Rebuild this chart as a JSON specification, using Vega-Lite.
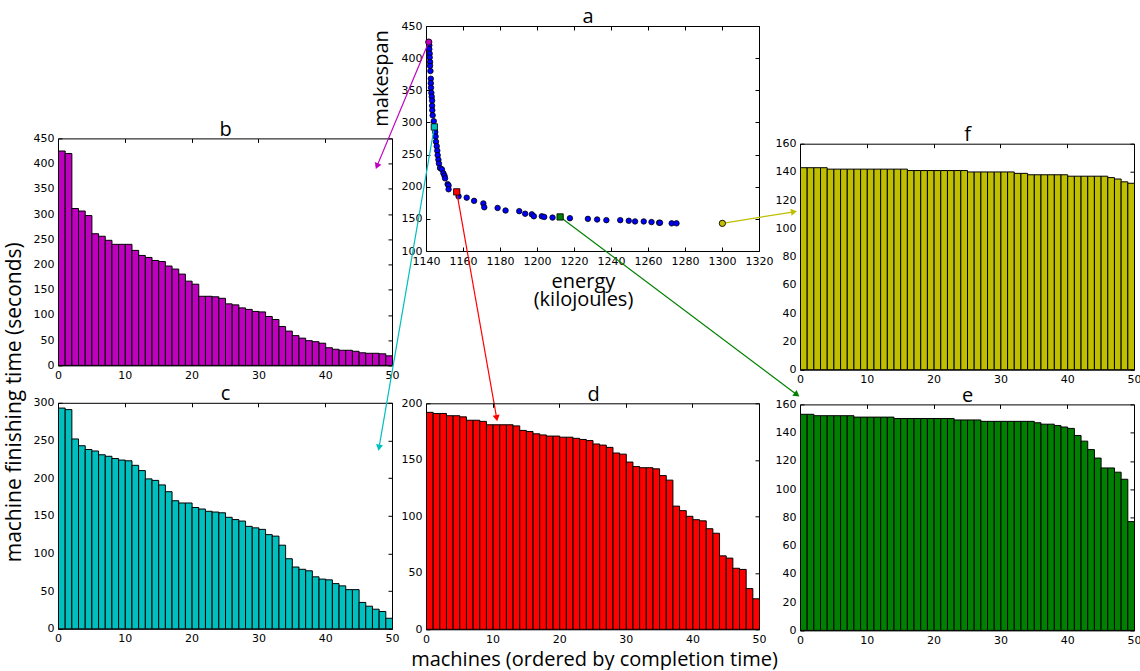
{
  "$schema": "https://vega.github.io/schema/vega-lite/v6.json",
  "background": "white",
  "padding": {"left": 2, "top": 5, "right": 0, "bottom": 0},
  "config": {
    "view": {"stroke": "black", "strokeWidth": 1},
    "axis": {
      "labelFont": "DejaVu Sans", "labelFontSize": 11, "labelColor": "black",
      "labelFlush": false, "labelOverlap": false,
      "tickColor": "black", "tickSize": -4, "tickWidth": 1, "labelPadding": 8,
      "domain": false, "grid": false,
      "titleFont": "Open Sans", "titleFontSize": 20, "titleFontWeight": "normal", "titleColor": "black"
    }
  },
  "datasets": {
    "pts": [
      {"energy": 1141.5, "makespan": 425}, {"energy": 1141.8, "makespan": 420}, {"energy": 1141.8, "makespan": 414},
      {"energy": 1142, "makespan": 407}, {"energy": 1142, "makespan": 401}, {"energy": 1142.2, "makespan": 394},
      {"energy": 1142.2, "makespan": 388}, {"energy": 1142.4, "makespan": 380}, {"energy": 1142.6, "makespan": 368},
      {"energy": 1142.6, "makespan": 361}, {"energy": 1142.7, "makespan": 354}, {"energy": 1142.9, "makespan": 346},
      {"energy": 1143.1, "makespan": 340}, {"energy": 1143.3, "makespan": 334}, {"energy": 1143.3, "makespan": 326},
      {"energy": 1143.4, "makespan": 319}, {"energy": 1143.6, "makespan": 311}, {"energy": 1144.2, "makespan": 302},
      {"energy": 1144.5, "makespan": 293}, {"energy": 1145, "makespan": 285}, {"energy": 1145.2, "makespan": 278},
      {"energy": 1145.4, "makespan": 270}, {"energy": 1145.8, "makespan": 263}, {"energy": 1146.1, "makespan": 256},
      {"energy": 1146.3, "makespan": 249}, {"energy": 1146.7, "makespan": 242}, {"energy": 1147, "makespan": 236},
      {"energy": 1147.6, "makespan": 229}, {"energy": 1148.6, "makespan": 227}, {"energy": 1149.4, "makespan": 221},
      {"energy": 1150, "makespan": 217}, {"energy": 1150.3, "makespan": 213}, {"energy": 1151.7, "makespan": 204},
      {"energy": 1152.2, "makespan": 202}, {"energy": 1152.2, "makespan": 196}, {"energy": 1156.6, "makespan": 192},
      {"energy": 1157.6, "makespan": 185}, {"energy": 1162, "makespan": 183}, {"energy": 1166, "makespan": 178},
      {"energy": 1171, "makespan": 174}, {"energy": 1171.5, "makespan": 168}, {"energy": 1178.7, "makespan": 167},
      {"energy": 1183, "makespan": 163}, {"energy": 1190.4, "makespan": 162}, {"energy": 1193.6, "makespan": 158},
      {"energy": 1197.2, "makespan": 157}, {"energy": 1198.3, "makespan": 154}, {"energy": 1202.6, "makespan": 154},
      {"energy": 1203.9, "makespan": 153}, {"energy": 1208.4, "makespan": 152}, {"energy": 1212.5, "makespan": 153},
      {"energy": 1217.8, "makespan": 151}, {"energy": 1227.5, "makespan": 150}, {"energy": 1232.5, "makespan": 149},
      {"energy": 1237.5, "makespan": 148}, {"energy": 1245, "makespan": 148}, {"energy": 1249.6, "makespan": 147},
      {"energy": 1253, "makespan": 146}, {"energy": 1257.7, "makespan": 146}, {"energy": 1261.9, "makespan": 145},
      {"energy": 1266, "makespan": 144}, {"energy": 1266.5, "makespan": 144}, {"energy": 1272.8, "makespan": 143},
      {"energy": 1275.4, "makespan": 143}, {"energy": 1300.2, "makespan": 143}
    ],
    "links": [
      {"panel": "b", "energy": 1141.5, "makespan": 425, "energy2": 1113.5, "makespan2": 232},
      {"panel": "c", "energy": 1144.5, "makespan": 293, "energy2": 1114.6, "makespan2": -206},
      {"panel": "d", "energy": 1156.6, "makespan": 192, "energy2": 1178.2, "makespan2": -160},
      {"panel": "e", "energy": 1212.5, "makespan": 153, "energy2": 1340.5, "makespan2": -123.5},
      {"panel": "f", "energy": 1300.2, "makespan": 143, "energy2": 1338.9, "makespan2": 161}
    ],
    "b": [
      {"machine": 0, "time": 425}, {"machine": 1, "time": 420}, {"machine": 2, "time": 311}, {"machine": 3, "time": 306}, {"machine": 4, "time": 297},
      {"machine": 5, "time": 261}, {"machine": 6, "time": 256}, {"machine": 7, "time": 248}, {"machine": 8, "time": 240}, {"machine": 9, "time": 240},
      {"machine": 10, "time": 240}, {"machine": 11, "time": 228}, {"machine": 12, "time": 218}, {"machine": 13, "time": 214}, {"machine": 14, "time": 208},
      {"machine": 15, "time": 206}, {"machine": 16, "time": 197}, {"machine": 17, "time": 191}, {"machine": 18, "time": 181}, {"machine": 19, "time": 167},
      {"machine": 20, "time": 161}, {"machine": 21, "time": 137}, {"machine": 22, "time": 137}, {"machine": 23, "time": 136}, {"machine": 24, "time": 133},
      {"machine": 25, "time": 122}, {"machine": 26, "time": 120}, {"machine": 27, "time": 114}, {"machine": 28, "time": 111}, {"machine": 29, "time": 107},
      {"machine": 30, "time": 106}, {"machine": 31, "time": 97}, {"machine": 32, "time": 91}, {"machine": 33, "time": 77}, {"machine": 34, "time": 68},
      {"machine": 35, "time": 59}, {"machine": 36, "time": 54}, {"machine": 37, "time": 49}, {"machine": 38, "time": 47}, {"machine": 39, "time": 44},
      {"machine": 40, "time": 35}, {"machine": 41, "time": 32}, {"machine": 42, "time": 30}, {"machine": 43, "time": 30}, {"machine": 44, "time": 28},
      {"machine": 45, "time": 25}, {"machine": 46, "time": 24}, {"machine": 47, "time": 24}, {"machine": 48, "time": 23}, {"machine": 49, "time": 19}
    ],
    "c": [
      {"machine": 0, "time": 293}, {"machine": 1, "time": 291}, {"machine": 2, "time": 252}, {"machine": 3, "time": 243}, {"machine": 4, "time": 238},
      {"machine": 5, "time": 236}, {"machine": 6, "time": 231}, {"machine": 7, "time": 229}, {"machine": 8, "time": 226}, {"machine": 9, "time": 224},
      {"machine": 10, "time": 223}, {"machine": 11, "time": 217}, {"machine": 12, "time": 210}, {"machine": 13, "time": 199}, {"machine": 14, "time": 197},
      {"machine": 15, "time": 191}, {"machine": 16, "time": 182}, {"machine": 17, "time": 170}, {"machine": 18, "time": 167}, {"machine": 19, "time": 167},
      {"machine": 20, "time": 161}, {"machine": 21, "time": 159}, {"machine": 22, "time": 156}, {"machine": 23, "time": 155}, {"machine": 24, "time": 154},
      {"machine": 25, "time": 148}, {"machine": 26, "time": 145}, {"machine": 27, "time": 143}, {"machine": 28, "time": 136}, {"machine": 29, "time": 134},
      {"machine": 30, "time": 132}, {"machine": 31, "time": 125}, {"machine": 32, "time": 123}, {"machine": 33, "time": 111}, {"machine": 34, "time": 93},
      {"machine": 35, "time": 82}, {"machine": 36, "time": 79}, {"machine": 37, "time": 77}, {"machine": 38, "time": 69}, {"machine": 39, "time": 66},
      {"machine": 40, "time": 65}, {"machine": 41, "time": 60}, {"machine": 42, "time": 57}, {"machine": 43, "time": 52}, {"machine": 44, "time": 52},
      {"machine": 45, "time": 35}, {"machine": 46, "time": 30}, {"machine": 47, "time": 26}, {"machine": 48, "time": 23}, {"machine": 49, "time": 14}
    ],
    "d": [
      {"machine": 0, "time": 192}, {"machine": 1, "time": 191}, {"machine": 2, "time": 191}, {"machine": 3, "time": 189}, {"machine": 4, "time": 189},
      {"machine": 5, "time": 188}, {"machine": 6, "time": 185}, {"machine": 7, "time": 185}, {"machine": 8, "time": 184}, {"machine": 9, "time": 181},
      {"machine": 10, "time": 181}, {"machine": 11, "time": 181}, {"machine": 12, "time": 181}, {"machine": 13, "time": 180}, {"machine": 14, "time": 176},
      {"machine": 15, "time": 175}, {"machine": 16, "time": 173}, {"machine": 17, "time": 172}, {"machine": 18, "time": 171}, {"machine": 19, "time": 171},
      {"machine": 20, "time": 170}, {"machine": 21, "time": 170}, {"machine": 22, "time": 169}, {"machine": 23, "time": 168}, {"machine": 24, "time": 167},
      {"machine": 25, "time": 164}, {"machine": 26, "time": 163}, {"machine": 27, "time": 161}, {"machine": 28, "time": 156}, {"machine": 29, "time": 155},
      {"machine": 30, "time": 148}, {"machine": 31, "time": 144}, {"machine": 32, "time": 143}, {"machine": 33, "time": 143}, {"machine": 34, "time": 142},
      {"machine": 35, "time": 136}, {"machine": 36, "time": 132}, {"machine": 37, "time": 109}, {"machine": 38, "time": 105}, {"machine": 39, "time": 100},
      {"machine": 40, "time": 97}, {"machine": 41, "time": 96}, {"machine": 42, "time": 89}, {"machine": 43, "time": 85}, {"machine": 44, "time": 65},
      {"machine": 45, "time": 63}, {"machine": 46, "time": 54}, {"machine": 47, "time": 53}, {"machine": 48, "time": 36}, {"machine": 49, "time": 27}
    ],
    "e": [
      {"machine": 0, "time": 153}, {"machine": 1, "time": 153}, {"machine": 2, "time": 152}, {"machine": 3, "time": 152}, {"machine": 4, "time": 152},
      {"machine": 5, "time": 152}, {"machine": 6, "time": 152}, {"machine": 7, "time": 152}, {"machine": 8, "time": 151}, {"machine": 9, "time": 151},
      {"machine": 10, "time": 151}, {"machine": 11, "time": 151}, {"machine": 12, "time": 151}, {"machine": 13, "time": 151}, {"machine": 14, "time": 150},
      {"machine": 15, "time": 150}, {"machine": 16, "time": 150}, {"machine": 17, "time": 150}, {"machine": 18, "time": 150}, {"machine": 19, "time": 150},
      {"machine": 20, "time": 150}, {"machine": 21, "time": 150}, {"machine": 22, "time": 150}, {"machine": 23, "time": 149}, {"machine": 24, "time": 149},
      {"machine": 25, "time": 149}, {"machine": 26, "time": 149}, {"machine": 27, "time": 148}, {"machine": 28, "time": 148}, {"machine": 29, "time": 148},
      {"machine": 30, "time": 148}, {"machine": 31, "time": 148}, {"machine": 32, "time": 148}, {"machine": 33, "time": 148}, {"machine": 34, "time": 148},
      {"machine": 35, "time": 147}, {"machine": 36, "time": 146}, {"machine": 37, "time": 146}, {"machine": 38, "time": 145}, {"machine": 39, "time": 144},
      {"machine": 40, "time": 143}, {"machine": 41, "time": 138}, {"machine": 42, "time": 134}, {"machine": 43, "time": 128}, {"machine": 44, "time": 122},
      {"machine": 45, "time": 115}, {"machine": 46, "time": 115}, {"machine": 47, "time": 112}, {"machine": 48, "time": 107}, {"machine": 49, "time": 77}
    ],
    "f": [
      {"machine": 0, "time": 143}, {"machine": 1, "time": 143}, {"machine": 2, "time": 143}, {"machine": 3, "time": 143}, {"machine": 4, "time": 142},
      {"machine": 5, "time": 142}, {"machine": 6, "time": 142}, {"machine": 7, "time": 142}, {"machine": 8, "time": 142}, {"machine": 9, "time": 142},
      {"machine": 10, "time": 142}, {"machine": 11, "time": 142}, {"machine": 12, "time": 142}, {"machine": 13, "time": 142}, {"machine": 14, "time": 142},
      {"machine": 15, "time": 142}, {"machine": 16, "time": 141}, {"machine": 17, "time": 141}, {"machine": 18, "time": 141}, {"machine": 19, "time": 141},
      {"machine": 20, "time": 141}, {"machine": 21, "time": 141}, {"machine": 22, "time": 141}, {"machine": 23, "time": 141}, {"machine": 24, "time": 141},
      {"machine": 25, "time": 140}, {"machine": 26, "time": 140}, {"machine": 27, "time": 140}, {"machine": 28, "time": 140}, {"machine": 29, "time": 140},
      {"machine": 30, "time": 140}, {"machine": 31, "time": 140}, {"machine": 32, "time": 139}, {"machine": 33, "time": 139}, {"machine": 34, "time": 138},
      {"machine": 35, "time": 138}, {"machine": 36, "time": 138}, {"machine": 37, "time": 138}, {"machine": 38, "time": 138}, {"machine": 39, "time": 138},
      {"machine": 40, "time": 137}, {"machine": 41, "time": 137}, {"machine": 42, "time": 137}, {"machine": 43, "time": 137}, {"machine": 44, "time": 137},
      {"machine": 45, "time": 137}, {"machine": 46, "time": 136}, {"machine": 47, "time": 135}, {"machine": 48, "time": 133}, {"machine": 49, "time": 132}
    ]
  },
  "spacing": -30,
  "hconcat": [
    {
      "bounds": "flush",
      "spacing": 37.4,
      "vconcat": [
        {"width": 334, "height": 74.9, "view": {"stroke": "transparent"}, "data": {"values": [{"k": 1}]}, "mark": {"type": "text"}, "encoding": {"text": {"value": ""}}},
        {
          "width": 334, "height": 227,
          "data": {"name": "b"},
          "layer": [
            {"mark": {"type": "bar", "fill": "#bf00bf", "stroke": "black", "strokeWidth": 1, "binSpacing": 0},
             "encoding": {
               "x": {"field": "machine", "type": "quantitative", "bin": {"binned": true, "step": 1}, "scale": {"domain": [0, 50], "nice": false, "zero": false}, "axis": {"values": [0, 10, 20, 30, 40, 50], "title": null}},
               "y": {"field": "time", "type": "quantitative", "scale": {"domain": [0, 450], "nice": false}, "axis": {"values": [0, 50, 100, 150, 200, 250, 300, 350, 400, 450], "title": null}}}},
            {"mark": {"type": "point", "opacity": 0},
             "encoding": {
               "x": {"field": "machine", "type": "quantitative", "scale": {"domain": [0, 50], "nice": false, "zero": false}, "axis": {"orient": "top", "labels": false, "values": [0, 10, 20, 30, 40, 50], "title": "b", "titleX": 167, "titleY": -3, "titleAlign": "center", "titleBaseline": "alphabetic"}},
               "y": {"field": "time", "type": "quantitative", "scale": {"domain": [0, 450], "nice": false}, "axis": {"orient": "right", "labels": false, "values": [0, 50, 100, 150, 200, 250, 300, 350, 400, 450], "title": null}}}}
          ],
          "resolve": {"axis": {"x": "independent", "y": "independent"}}
        },
        {
          "width": 334, "height": 226,
          "data": {"name": "c"},
          "layer": [
            {"mark": {"type": "bar", "fill": "#00bfbf", "stroke": "black", "strokeWidth": 1, "binSpacing": 0},
             "encoding": {
               "x": {"field": "machine", "type": "quantitative", "bin": {"binned": true, "step": 1}, "scale": {"domain": [0, 50], "nice": false, "zero": false}, "axis": {"values": [0, 10, 20, 30, 40, 50], "title": null}},
               "y": {"field": "time", "type": "quantitative", "scale": {"domain": [0, 300], "nice": false}, "axis": {"values": [0, 50, 100, 150, 200, 250, 300], "title": "machine finishing time (seconds)", "titleFontSize": 21, "titleX": -38, "titleY": -1, "titleAngle": 270, "titleAlign": "center", "titleBaseline": "alphabetic"}}}},
            {"mark": {"type": "point", "opacity": 0},
             "encoding": {
               "x": {"field": "machine", "type": "quantitative", "scale": {"domain": [0, 50], "nice": false, "zero": false}, "axis": {"orient": "top", "labels": false, "values": [0, 10, 20, 30, 40, 50], "title": "c", "titleX": 167, "titleY": -3, "titleAlign": "center", "titleBaseline": "alphabetic"}},
               "y": {"field": "time", "type": "quantitative", "scale": {"domain": [0, 300], "nice": false}, "axis": {"orient": "right", "labels": false, "values": [0, 50, 100, 150, 200, 250, 300], "title": null}}}}
          ],
          "resolve": {"axis": {"x": "independent", "y": "independent"}}
        }
      ]
    },
    {
      "bounds": "flush",
      "spacing": 152.3,
      "vconcat": [
        {
          "width": 333, "height": 225,
          "layer": [
            {"data": {"name": "pts"},
             "mark": {"type": "point", "filled": true, "fill": "#0000ff", "stroke": "black", "strokeWidth": 0.8, "size": 30, "opacity": 1},
             "encoding": {
               "x": {"field": "energy", "type": "quantitative", "scale": {"domain": [1140, 1320], "nice": false, "zero": false}, "axis": {"format": "d", "values": [1140, 1160, 1180, 1200, 1220, 1240, 1260, 1280, 1300, 1320], "title": ["energy", "(kilojoules)"], "titleX": 157, "titleY": 36, "titleAlign": "center", "titleBaseline": "alphabetic", "titleLineHeight": 18}},
               "y": {"field": "makespan", "type": "quantitative", "scale": {"domain": [100, 450], "nice": false, "zero": false}, "axis": {"values": [100, 150, 200, 250, 300, 350, 400, 450], "title": "makespan", "titleX": -39, "titleY": 52, "titleAngle": 270, "titleAlign": "center", "titleBaseline": "alphabetic"}}}},
            {"data": {"name": "links"},
             "mark": {"type": "rule", "strokeWidth": 1.2},
             "encoding": {
               "x": {"field": "energy", "type": "quantitative", "axis": null},
               "y": {"field": "makespan", "type": "quantitative", "axis": null},
               "x2": {"field": "energy2"},
               "y2": {"field": "makespan2"},
               "color": {"field": "panel", "type": "nominal", "scale": {"domain": ["b", "c", "d", "e", "f"], "range": ["#bf00bf", "#00bfbf", "#ff0000", "#008000", "#bfbf00"]}, "legend": null}}},
            {"data": {"name": "links"},
             "mark": {"type": "point", "filled": true, "stroke": "black", "strokeWidth": 0.8, "size": 40, "opacity": 1},
             "encoding": {
               "x": {"field": "energy", "type": "quantitative", "axis": null},
               "y": {"field": "makespan", "type": "quantitative", "axis": null},
               "fill": {"field": "panel", "type": "nominal", "scale": {"domain": ["b", "c", "d", "e", "f"], "range": ["#bf00bf", "#00bfbf", "#ff0000", "#008000", "#bfbf00"]}, "legend": null},
               "shape": {"field": "panel", "type": "nominal", "scale": {"domain": ["b", "c", "d", "e", "f"], "range": ["circle", "square", "square", "square", "circle"]}, "legend": null}}},
            {"data": {"name": "links"},
             "mark": {"type": "point", "filled": true, "shape": "triangle-up", "size": 50, "opacity": 1},
             "encoding": {
               "x": {"field": "energy2", "type": "quantitative", "axis": null},
               "y": {"field": "makespan2", "type": "quantitative", "axis": null},
               "color": {"field": "panel", "type": "nominal", "scale": {"domain": ["b", "c", "d", "e", "f"], "range": ["#bf00bf", "#00bfbf", "#ff0000", "#008000", "#bfbf00"]}, "legend": null},
               "angle": {"field": "panel", "type": "nominal", "scale": {"type": "ordinal", "domain": ["b", "c", "d", "e", "f"], "range": [202, 190, 170, 127, 80]}, "legend": null}}},
            {"data": {"name": "pts"},
             "mark": {"type": "point", "opacity": 0},
             "encoding": {
               "x": {"field": "energy", "type": "quantitative", "axis": {"orient": "top", "labels": false, "values": [1140, 1160, 1180, 1200, 1220, 1240, 1260, 1280, 1300, 1320], "title": "a", "titleX": 161.5, "titleY": -4, "titleAlign": "center", "titleBaseline": "alphabetic"}},
               "y": {"field": "makespan", "type": "quantitative", "axis": {"orient": "right", "labels": false, "values": [100, 150, 200, 250, 300, 350, 400, 450], "title": null}}}}
          ],
          "resolve": {"axis": {"x": "independent", "y": "independent"}}
        },
        {
          "width": 333, "height": 226,
          "data": {"name": "d"},
          "layer": [
            {"mark": {"type": "bar", "fill": "#ff0000", "stroke": "black", "strokeWidth": 1, "binSpacing": 0},
             "encoding": {
               "x": {"field": "machine", "type": "quantitative", "bin": {"binned": true, "step": 1}, "scale": {"domain": [0, 50], "nice": false, "zero": false}, "axis": {"values": [0, 10, 20, 30, 40, 50], "title": "machines (ordered by completion time)", "titleX": 168, "titleY": 36, "titleAlign": "center", "titleBaseline": "alphabetic"}},
               "y": {"field": "time", "type": "quantitative", "scale": {"domain": [0, 200], "nice": false}, "axis": {"values": [0, 50, 100, 150, 200], "title": null}}}},
            {"mark": {"type": "point", "opacity": 0},
             "encoding": {
               "x": {"field": "machine", "type": "quantitative", "scale": {"domain": [0, 50], "nice": false, "zero": false}, "axis": {"orient": "top", "labels": false, "values": [0, 10, 20, 30, 40, 50], "title": "d", "titleX": 167, "titleY": -3, "titleAlign": "center", "titleBaseline": "alphabetic"}},
               "y": {"field": "time", "type": "quantitative", "scale": {"domain": [0, 200], "nice": false}, "axis": {"orient": "right", "labels": false, "values": [0, 50, 100, 150, 200], "title": null}}}}
          ],
          "resolve": {"axis": {"x": "independent", "y": "independent"}}
        }
      ]
    },
    {
      "bounds": "flush",
      "spacing": 34.7,
      "vconcat": [
        {"width": 334, "height": 82.6, "view": {"stroke": "transparent"}, "data": {"values": [{"k": 1}]}, "mark": {"type": "text"}, "encoding": {"text": {"value": ""}}},
        {
          "width": 334, "height": 226,
          "data": {"name": "f"},
          "layer": [
            {"mark": {"type": "bar", "fill": "#bfbf00", "stroke": "black", "strokeWidth": 1, "binSpacing": 0},
             "encoding": {
               "x": {"field": "machine", "type": "quantitative", "bin": {"binned": true, "step": 1}, "scale": {"domain": [0, 50], "nice": false, "zero": false}, "axis": {"values": [0, 10, 20, 30, 40, 50], "title": null}},
               "y": {"field": "time", "type": "quantitative", "scale": {"domain": [0, 160], "nice": false}, "axis": {"values": [0, 20, 40, 60, 80, 100, 120, 140, 160], "title": null}}}},
            {"mark": {"type": "point", "opacity": 0},
             "encoding": {
               "x": {"field": "machine", "type": "quantitative", "scale": {"domain": [0, 50], "nice": false, "zero": false}, "axis": {"orient": "top", "labels": false, "values": [0, 10, 20, 30, 40, 50], "title": "f", "titleX": 167, "titleY": -3, "titleAlign": "center", "titleBaseline": "alphabetic"}},
               "y": {"field": "time", "type": "quantitative", "scale": {"domain": [0, 160], "nice": false}, "axis": {"orient": "right", "labels": false, "values": [0, 20, 40, 60, 80, 100, 120, 140, 160], "title": null}}}}
          ],
          "resolve": {"axis": {"x": "independent", "y": "independent"}}
        },
        {
          "width": 334, "height": 226,
          "data": {"name": "e"},
          "layer": [
            {"mark": {"type": "bar", "fill": "#008000", "stroke": "black", "strokeWidth": 1, "binSpacing": 0},
             "encoding": {
               "x": {"field": "machine", "type": "quantitative", "bin": {"binned": true, "step": 1}, "scale": {"domain": [0, 50], "nice": false, "zero": false}, "axis": {"values": [0, 10, 20, 30, 40, 50], "title": null}},
               "y": {"field": "time", "type": "quantitative", "scale": {"domain": [0, 160], "nice": false}, "axis": {"values": [0, 20, 40, 60, 80, 100, 120, 140, 160], "title": null}}}},
            {"mark": {"type": "point", "opacity": 0},
             "encoding": {
               "x": {"field": "machine", "type": "quantitative", "scale": {"domain": [0, 50], "nice": false, "zero": false}, "axis": {"orient": "top", "labels": false, "values": [0, 10, 20, 30, 40, 50], "title": "e", "titleX": 167, "titleY": -3, "titleAlign": "center", "titleBaseline": "alphabetic"}},
               "y": {"field": "time", "type": "quantitative", "scale": {"domain": [0, 160], "nice": false}, "axis": {"orient": "right", "labels": false, "values": [0, 20, 40, 60, 80, 100, 120, 140, 160], "title": null}}}}
          ],
          "resolve": {"axis": {"x": "independent", "y": "independent"}}
        }
      ]
    }
  ]
}
